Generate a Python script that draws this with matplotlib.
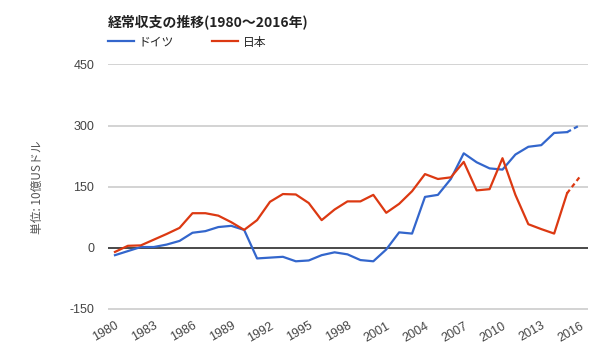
import matplotlib
matplotlib.use('Agg')
import matplotlib.pyplot as plt

plt.rcParams['font.family'] = ['Noto Sans CJK JP', 'DejaVu Sans']
plt.rcParams['axes.unicode_minus'] = False

years = list(range(1980, 2017))

# 経常収支 (10億USドル)
germany = [-18, -8, 2, 2, 8, 17, 37, 41, 51, 54, 44, -26, -24, -22, -33, -31,
           -18, -11, -16, -30, -33, -4, 38, 35, 125, 130, 169, 232, 210, 195,
           192, 229, 248, 252, 282, 284, 301]
japan = [-10, 5, 6, 20, 34, 49, 85, 85, 79, 63, 44, 68, 113, 132, 131, 110,
         68, 94, 114, 114, 130, 86, 108, 139, 181, 169, 173, 211, 141, 144,
         220, 130, 58, 46, 35, 134, 175]

series = [('ドイツ', germany, '#3366cc'), ('日本', japan, '#dc3912')]
xticks = list(range(1980, 2017, 3))
yticks = [-150, 0, 150, 300, 450]
tickfont = ['Liberation Sans', 'Noto Sans CJK JP']

fig = plt.figure(figsize=(6, 3.6), dpi=100)
ax = fig.add_axes([0.18, 0.135, 0.80, 0.687])

for name, vals, col in series:
    ax.plot(years[:-1], vals[:-1], color=col, lw=1.6, label=name, zorder=3)
    # last year is an estimate -> dashed
    ax.plot(years[-2:], vals[-2:], color=col, lw=1.6, ls=(0, (2, 1.5)), zorder=3)

ax.set_xlim(1979.46, 2016.62)
ax.set_ylim(-156, 451)
ax.set_yticks(yticks)
ax.set_xticks(xticks)
ax.set_xticklabels([str(y) for y in xticks], rotation=30, ha='right',
                   rotation_mode='anchor', family=tickfont)
ax.set_yticklabels([str(v) for v in yticks], family=tickfont)
ax.hlines(yticks, 1979.46, 2016.62, colors='#c8c8c8', lw=1.1, zorder=1)
ax.axhline(0, color='#333333', lw=1.2, zorder=2)
for s in ax.spines.values():
    s.set_visible(False)
ax.tick_params(axis='y', length=0, pad=10, labelsize=9, labelcolor='#444444')
ax.tick_params(axis='x', length=0, pad=6, labelsize=9, labelcolor='#444444')
ax.set_ylabel('単位: 10億USドル', fontsize=8.5, color='#555555', labelpad=18)

fig.text(0.18, 0.94, '経常収支の推移(1980〜2016年)', fontsize=10, fontweight='bold',
         color='#222222', va='center')
ax.legend(loc='center left', bbox_to_anchor=(0.18, 0.883), bbox_transform=fig.transFigure,
          ncol=2, frameon=False, fontsize=8.5, handlelength=2.2, handletextpad=0.4,
          columnspacing=3.2, borderaxespad=0, borderpad=0, labelcolor='#222222')

fig.savefig('out.png', dpi=100)
